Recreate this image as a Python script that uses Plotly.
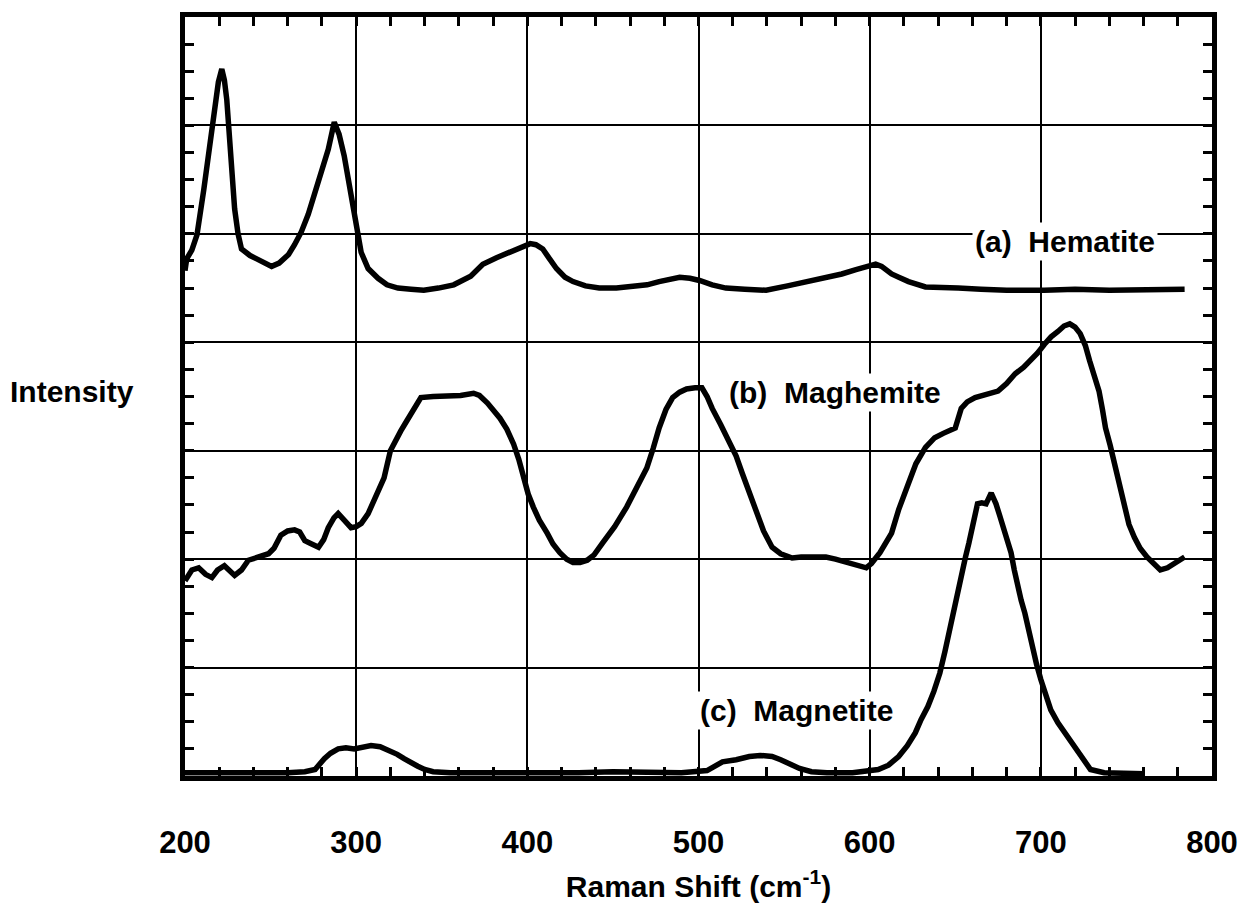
import plotly.graph_objects as go

# ---------------- data ----------------
hematite_shift = [
    200, 201, 204, 207, 211, 214.5, 217.4, 219.5, 221.5, 223,
    224.4, 226, 227.3, 229, 231, 233, 238, 243, 247, 250.6,
    255, 260.5, 264, 268, 272, 275.6, 280, 283.7, 287.2, 290,
    293, 296, 298.8, 302.9, 307, 312.8, 318, 324.4, 332, 339.5,
    348, 357, 366.9, 374, 382, 390, 396, 401.7, 405, 409,
    413, 417, 422, 426.7, 434, 442, 452, 461.6, 470, 477,
    483, 489, 495, 500.6, 508, 516, 527, 539.5, 552, 564.5,
    575, 583.7, 592, 599, 603.5, 607, 612.8, 617, 622.7, 632.6,
    642, 651.7, 665, 680, 702, 720, 740, 760, 784,
]
hematite_intensity = [
    4.66, 4.77, 4.85, 4.99, 5.41, 5.82, 6.21, 6.40, 6.52, 6.42,
    6.24, 5.90, 5.54, 5.23, 5.00, 4.86, 4.80, 4.76, 4.73, 4.70,
    4.73, 4.81, 4.90, 5.02, 5.18, 5.36, 5.58, 5.78, 6.03, 5.92,
    5.72, 5.45, 5.23, 4.83, 4.68, 4.59, 4.53, 4.50, 4.49, 4.48,
    4.50, 4.53, 4.61, 4.72, 4.78, 4.83, 4.88, 4.91, 4.90, 4.86,
    4.77, 4.68, 4.60, 4.56, 4.52, 4.50, 4.50, 4.51, 4.53, 4.56,
    4.58, 4.60, 4.59, 4.57, 4.53, 4.50, 4.49, 4.48, 4.52, 4.56,
    4.60, 4.63, 4.67, 4.70, 4.72, 4.70, 4.63, 4.60, 4.56, 4.51,
    4.50, 4.50, 4.49, 4.48, 4.48, 4.49, 4.48, 4.49, 4.49,
]

maghemite_shift = [
    200, 201, 204, 208, 212, 215.7, 219, 223, 226, 229,
    233, 237, 243, 248.8, 252, 256, 260, 264, 267, 270,
    274, 278, 281, 283.7, 287, 289.5, 293, 297, 300, 303,
    307, 310.5, 313, 316.3, 320, 323, 326, 329, 332, 335,
    337.8, 345, 353.5, 361, 368.6, 372, 376.7, 380, 384, 388,
    392, 395, 397.7, 400.5, 403.5, 407, 411.6, 415, 419, 423,
    426.7, 430.8, 435, 439, 444, 451, 458, 464, 469.8, 473.5,
    477, 481, 484.9, 489, 493, 498, 502, 505, 508, 513,
    518, 522, 525.6, 530, 533.7, 538, 543, 548, 554.7, 560,
    567, 574.4, 580, 587, 593.6, 598, 601, 606, 612.8, 617,
    622.7, 627, 632.6, 638, 643, 650, 653.5, 657, 661.6, 668,
    675, 680, 685, 690, 694, 698, 702, 706, 710, 713.5,
    716.9, 720, 723, 726, 728.5, 731, 734, 736, 737.8, 740.5,
    743, 746, 748.8, 751.5, 754.7, 758, 762, 766, 769.8, 774,
    777.9, 781, 784,
]
maghemite_intensity = [
    1.80, 1.83, 1.90, 1.92, 1.86, 1.83, 1.90, 1.94, 1.90, 1.85,
    1.90, 1.99, 2.02, 2.05, 2.10, 2.22, 2.26, 2.27, 2.25, 2.17,
    2.14, 2.11, 2.18, 2.29, 2.38, 2.42, 2.36, 2.29, 2.30, 2.33,
    2.42, 2.54, 2.64, 2.75, 3.00, 3.10, 3.18, 3.26, 3.34, 3.42,
    3.49, 3.50, 3.50, 3.51, 3.53, 3.51, 3.44, 3.38, 3.30, 3.20,
    3.06, 2.92, 2.75, 2.60, 2.48, 2.36, 2.24, 2.14, 2.06, 2.00,
    1.97, 1.97, 1.99, 2.04, 2.15, 2.30, 2.48, 2.66, 2.84, 3.02,
    3.21, 3.38, 3.49, 3.54, 3.57, 3.58, 3.58, 3.50, 3.39, 3.24,
    3.09, 2.95, 2.79, 2.60, 2.42, 2.26, 2.11, 2.05, 2.01, 2.02,
    2.02, 2.02, 2.00, 1.97, 1.93, 1.92, 1.96, 2.06, 2.24, 2.46,
    2.70, 2.88, 3.03, 3.12, 3.16, 3.21, 3.39, 3.45, 3.49, 3.52,
    3.55, 3.62, 3.71, 3.77, 3.83, 3.90, 3.98, 4.05, 4.10, 4.15,
    4.17, 4.14, 4.08, 3.97, 3.83, 3.70, 3.55, 3.38, 3.21, 3.05,
    2.88, 2.65, 2.45, 2.32, 2.20, 2.10, 2.02, 1.95, 1.90, 1.92,
    1.96, 1.99, 2.02,
]

magnetite_shift = [
    200, 215, 230, 245, 260, 270, 276, 281.4, 285, 289.5,
    294, 298.8, 304, 308.7, 314, 320, 324, 328, 332, 336,
    340, 345, 355, 370, 390, 410, 430, 450, 470, 490,
    505, 514, 522, 529.7, 536, 543, 548, 553, 559, 566,
    575, 590, 601, 605, 611, 616.9, 622, 626.7, 630, 634,
    637.5, 641, 644, 647, 649.5, 651.6, 654, 656, 658, 660,
    661.5, 663, 665.5, 668, 671, 673.8, 676, 678, 680.5, 682.6,
    684.5, 686.6, 688.5, 690.7, 693, 695, 697.5, 700, 703, 705.8,
    710, 714, 718, 721.5, 725, 729, 737, 750, 760,
]
magnetite_intensity = [
    0.03, 0.03, 0.02, 0.03, 0.03, 0.04, 0.06, 0.16, 0.21, 0.25,
    0.26, 0.25, 0.27, 0.28, 0.27, 0.23, 0.20, 0.16, 0.12, 0.09,
    0.06, 0.04, 0.03, 0.03, 0.02, 0.03, 0.03, 0.04, 0.03, 0.03,
    0.05, 0.13, 0.15, 0.18, 0.19, 0.18, 0.15, 0.11, 0.07, 0.04,
    0.03, 0.03, 0.05, 0.06, 0.10, 0.18, 0.28, 0.40, 0.52, 0.64,
    0.78, 0.95, 1.15, 1.38, 1.55, 1.74, 1.88, 2.02, 2.15, 2.29,
    2.40, 2.51, 2.52, 2.51, 2.61, 2.51, 2.40, 2.29, 2.17, 2.06,
    1.90, 1.74, 1.62, 1.50, 1.33, 1.17, 1.03, 0.89, 0.75, 0.61,
    0.49, 0.40, 0.30, 0.22, 0.14, 0.06, 0.03, 0.02, 0.02,
]

x_tick_values = [200, 300, 400, 500, 600, 700, 800]
x_tick_labels = ["200", "300", "400", "500", "600", "700", "800"]

series_labels = ["(a)  Hematite", "(b)  Maghemite", "(c)  Magnetite"]
label_shift = [714, 580, 557]
label_intensity = [4.93, 3.54, 0.60]

# ---------------- figure ----------------
FONT = "Liberation Sans, Arial, Helvetica, sans-serif"

fig = go.Figure()
for xs, ys in [(hematite_shift, hematite_intensity),
               (maghemite_shift, maghemite_intensity),
               (magnetite_shift, magnetite_intensity)]:
    fig.add_trace(go.Scatter(x=xs, y=ys, mode="lines",
                             line=dict(color="black", width=5.5),
                             showlegend=False, hoverinfo="skip"))

for txt, xv, yv in zip(series_labels, label_shift, label_intensity):
    fig.add_annotation(x=xv, y=yv, xref="x", yref="y", text=txt,
                       showarrow=False, bgcolor="white", borderpad=2,
                       font=dict(family=FONT, size=30, color="black", weight="bold"),
                       xanchor="center", yanchor="middle")

fig.add_annotation(x=-0.11, y=0.507, xref="paper", yref="paper",
                   text="Intensity", showarrow=False,
                   font=dict(family=FONT, size=30, color="black", weight="bold"),
                   xanchor="center", yanchor="middle")

axis_common = dict(
    showline=True, linewidth=5, linecolor="black", mirror="allticks",
    showgrid=True, gridcolor="black", gridwidth=2,
    zeroline=False, ticks="inside", ticklen=9, tickwidth=3, tickcolor="black",
)

fig.update_xaxes(
    range=[200, 800], tickvals=x_tick_values, ticktext=x_tick_labels,
    tickfont=dict(family=FONT, size=31, color="black", weight="bold"),
    ticklabelstandoff=35,
    minor=dict(dtick=20, tick0=200, ticks="inside", ticklen=9, tickwidth=3,
               tickcolor="black", showgrid=False),
    title=dict(text="Raman Shift (cm<sup>-1</sup>)",
               font=dict(family=FONT, size=30, color="black", weight="bold"),
               standoff=18),
    **axis_common,
)
fig.update_yaxes(
    range=[0, 7], dtick=1, tick0=0, showticklabels=False,
    minor=dict(dtick=0.25, tick0=0, ticks="inside", ticklen=9, tickwidth=3,
               tickcolor="black", showgrid=False),
    **axis_common,
)

fig.update_layout(
    width=1250, height=911,
    margin=dict(l=185, r=36, t=15, b=134),
    paper_bgcolor="white", plot_bgcolor="white",
    font=dict(family=FONT, color="black"),
)

fig.write_html("out.html", config={"displayModeBar": False},
               post_script="document.body.style.margin='0';")
